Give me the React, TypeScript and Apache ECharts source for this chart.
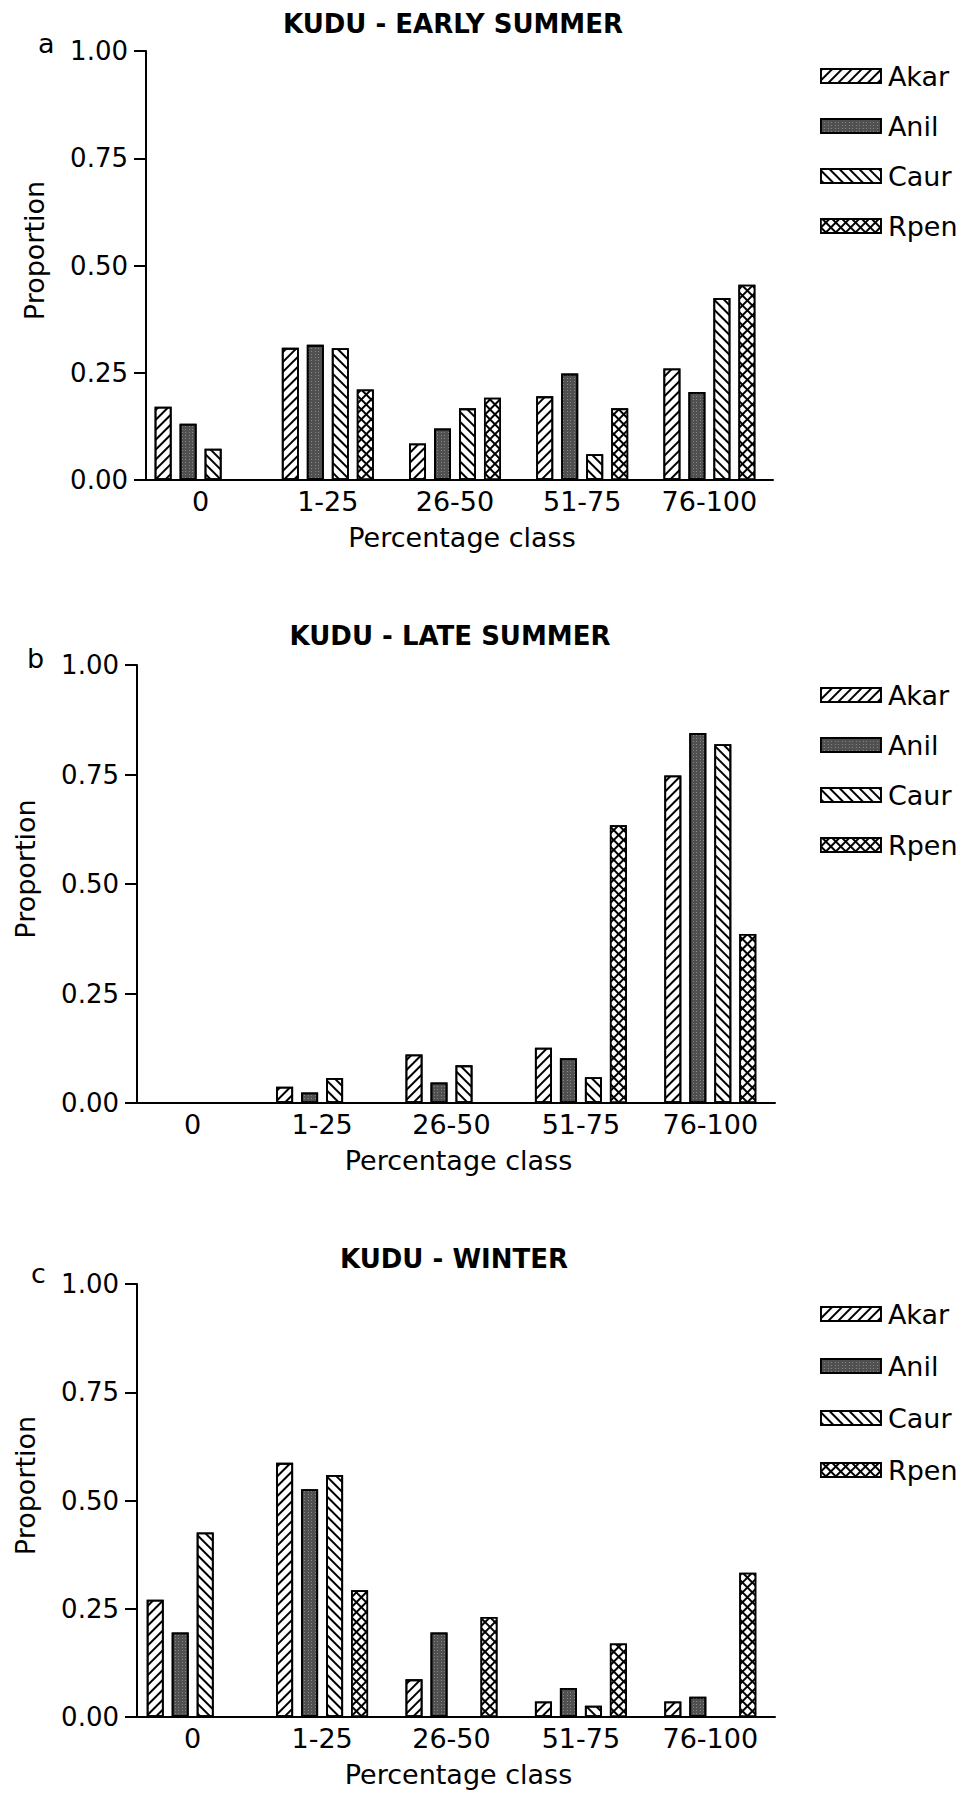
import React, { useEffect, useRef } from 'react';
import * as echarts from 'echarts';

// ---------- data ----------
const categories = ['0', '1-25', '26-50', '51-75', '76-100'];
const speciesNames = ['Akar', 'Anil', 'Caur', 'Rpen'];
const panelTitles = ['KUDU - EARLY SUMMER', 'KUDU - LATE SUMMER', 'KUDU - WINTER'];
const panelLetters = ['a', 'b', 'c'];
const xAxisTitle = 'Percentage class';
const yAxisTitle = 'Proportion';
const yMin = 0;
const yMax = 1;
const yStep = 0.25;

// Early summer
const earlyAkar = [0.171, 0.308, 0.085, 0.195, 0.26];
const earlyAnil = [0.131, 0.315, 0.12, 0.248, 0.205];
const earlyCaur = [0.073, 0.307, 0.167, 0.06, 0.424];
const earlyRpen = [0, 0.211, 0.192, 0.167, 0.455];

// Late summer
const lateAkar = [0, 0.037, 0.111, 0.126, 0.748];
const lateAnil = [0, 0.024, 0.047, 0.102, 0.845];
const lateCaur = [0, 0.057, 0.086, 0.059, 0.819];
const lateRpen = [0, 0, 0, 0.634, 0.386];

// Winter
const winterAkar = [0.271, 0.587, 0.087, 0.036, 0.036];
const winterAnil = [0.195, 0.526, 0.195, 0.067, 0.047];
const winterCaur = [0.426, 0.559, 0, 0.026, 0];
const winterRpen = [0, 0.293, 0.231, 0.17, 0.333];

const panelData = [
  [earlyAkar, earlyAnil, earlyCaur, earlyRpen],
  [lateAkar, lateAnil, lateCaur, lateRpen],
  [winterAkar, winterAnil, winterCaur, winterRpen],
];

// ---------- layout / style ----------
const FONT = "'DejaVu Sans', 'Liberation Sans', Arial, sans-serif";

const layouts = [
  { left: 137, top: 51, width: 636, height: 429, legendTop: 62, legendGap: 22, titleX: 453, titleY: 24, letterX: 38, letterY: 57 },
  { left: 128, top: 665, width: 647, height: 438, legendTop: 681, legendGap: 22, titleX: 450, titleY: 636, letterX: 27, letterY: 672 },
  { left: 128, top: 1284, width: 647, height: 433, legendTop: 1300, legendGap: 24, titleX: 454, titleY: 1259, letterX: 31, letterY: 1287 },
];

function styleFor(species: number) {
  if (species === 0) {
    return {
      color: '#ffffff',
      borderColor: '#000',
      borderWidth: 1.8,
      decal: { symbol: 'rect', symbolSize: 1, color: '#000', dashArrayX: [1, 0], dashArrayY: [2, 4.5], rotation: -Math.PI / 4 },
    };
  }
  if (species === 1) {
    return {
      color: '#505050',
      borderColor: '#000',
      borderWidth: 1.8,
      decal: { symbol: 'rect', symbolSize: 1, color: 'rgba(200,200,200,0.45)', dashArrayX: [[1, 2, 1, 3]], dashArrayY: [1, 2], rotation: 0 },
    };
  }
  if (species === 2) {
    return {
      color: '#ffffff',
      borderColor: '#000',
      borderWidth: 1.8,
      decal: { symbol: 'rect', symbolSize: 1, color: '#000', dashArrayX: [1, 0], dashArrayY: [2, 4.5], rotation: Math.PI / 4 },
    };
  }
  return {
    color: '#000000',
    borderColor: '#000',
    borderWidth: 1.8,
    decal: { symbol: 'rect', symbolSize: 1, color: '#ffffff', dashArrayX: [4.4, 1.8], dashArrayY: [4.4, 1.8], rotation: Math.PI / 4 },
  };
}

function buildOption() {
  const grid: any[] = [];
  const xAxis: any[] = [];
  const yAxis: any[] = [];
  const legend: any[] = [];
  const series: any[] = [];
  const graphic: any[] = [];

  layouts.forEach((L, p) => {
    grid.push({ left: L.left, top: L.top, width: L.width, height: L.height, containLabel: false });
    xAxis.push({
      type: 'category',
      gridIndex: p,
      data: categories,
      boundaryGap: true,
      axisLine: { show: true, lineStyle: { color: '#000', width: 2 } },
      axisTick: { show: false },
      axisLabel: { color: '#000', fontSize: 27, fontFamily: FONT, margin: 8, interval: 0 },
      splitLine: { show: false },
      name: xAxisTitle,
      nameLocation: 'middle',
      nameGap: 44,
      nameTextStyle: { color: '#000', fontSize: 27, fontFamily: FONT, padding: [0, 0, 0, 14] },
    });
    yAxis.push({
      type: 'value',
      gridIndex: p,
      min: yMin,
      max: yMax,
      interval: yStep,
      offset: -9,
      axisLine: { show: true, lineStyle: { color: '#000', width: 2 } },
      axisTick: { show: true, length: 12, lineStyle: { color: '#000', width: 2 } },
      axisLabel: {
        color: '#000',
        fontSize: 26,
        fontFamily: FONT,
        margin: 18,
        formatter: (v: number) => v.toFixed(2),
      },
      splitLine: { show: false },
      name: yAxisTitle,
      nameLocation: 'middle',
      nameGap: 98,
      nameTextStyle: { color: '#000', fontSize: 27, fontFamily: FONT, padding: [0, 0, 0, 30] },
    });
    legend.push({
      data: speciesNames,
      orient: 'vertical',
      left: 820,
      top: L.legendTop,
      padding: 0,
      itemWidth: 60,
      itemHeight: 14,
      itemGap: L.legendGap,
      selectedMode: false,
      icon: 'rect',
      itemStyle: { borderColor: '#000', borderWidth: 1.8 },
      textStyle: { color: '#000', fontSize: 27, fontFamily: FONT, lineHeight: 28, padding: [0, 0, 0, 2] },
    });
    panelData[p].forEach((vals, s) => {
      series.push({
        type: 'bar',
        name: speciesNames[s],
        xAxisIndex: p,
        yAxisIndex: p,
        data: vals,
        barWidth: 17,
        barGap: '47%',
        itemStyle: styleFor(s),
        emphasis: { disabled: true },
      });
    });
    graphic.push({
      type: 'text',
      x: L.titleX,
      y: L.titleY,
      style: {
        text: panelTitles[p],
        fill: '#000',
        fontSize: 26,
        fontWeight: 'bold',
        fontFamily: FONT,
        align: 'center',
        verticalAlign: 'middle',
      },
    });
    graphic.push({
      type: 'text',
      x: L.letterX,
      y: L.letterY,
      style: {
        text: panelLetters[p],
        fill: '#000',
        fontSize: 27,
        fontFamily: FONT,
        align: 'left',
        verticalAlign: 'bottom',
      },
    });
  });

  return {
    animation: false,
    backgroundColor: '#ffffff',
    grid,
    xAxis,
    yAxis,
    legend,
    series,
    graphic,
    tooltip: { show: false },
  };
}

export default function App() {
  const ref = useRef<HTMLDivElement>(null);
  useEffect(() => {
    if (!ref.current) return;
    const chart = echarts.init(ref.current, undefined, { renderer: 'svg' });
    chart.setOption(buildOption() as any);
    return () => {
      chart.dispose();
    };
  }, []);
  return (
    <div
      ref={ref}
      style={{ position: 'absolute', left: 0, top: 0, width: 967, height: 1795, background: '#fff' }}
    />
  );
}
